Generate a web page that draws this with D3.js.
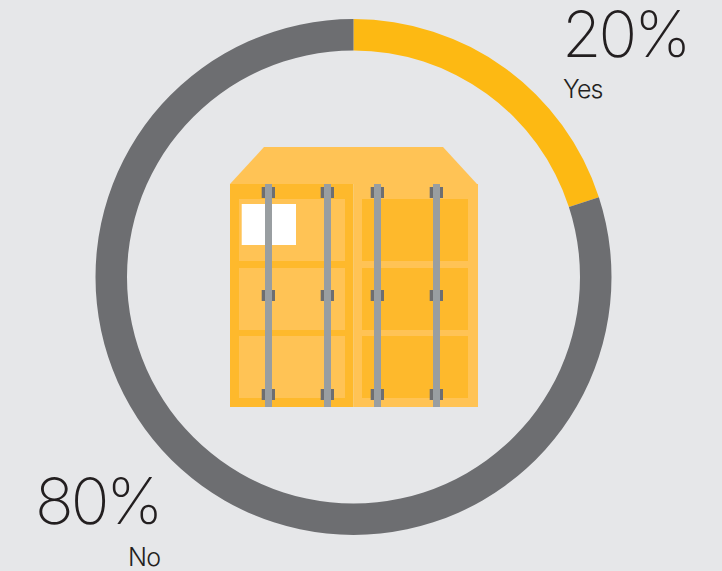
<!DOCTYPE html>
<html>
<head>
<meta charset="utf-8">
<style>
  html, body { margin: 0; padding: 0; background: #e6e7e9; overflow: hidden; }
  text { font-family: "Inter", "Liberation Sans", sans-serif; fill: #231f20; }
</style>
<script src="https://cdn.jsdelivr.net/npm/d3@7"></script>
</head>
<body>
<svg id="chart" width="722" height="571"></svg>
<script>
const categories = ["Yes", "No"];
const shares = [20, 80];
const sliceColors = ["#fdb913", "#6d6e71"];

const svg = d3.select("#chart");
const centerX = 353.5, centerY = 277, outerR = 258, innerR = 226.5;

// Ring, starting at twelve o'clock and running clockwise
const pie = d3.pie().sort(null).value(d => d);
const arc = d3.arc().innerRadius(innerR).outerRadius(outerR);
const color = d3.scaleOrdinal().domain(categories).range(sliceColors);

svg.append("g")
  .attr("transform", `translate(${centerX},${centerY})`)
  .selectAll("path")
  .data(pie(shares))
  .join("path")
  .attr("d", arc)
  .attr("fill", (d, i) => color(categories[i]));

// Percentage and category labels
const labelSpots = [
  { pctX: 562, pctY: 57, nameX: 563, nameY: 98 },
  { pctX: 35, pctY: 524, nameX: 128, nameY: 566 }
];
categories.forEach((name, i) => {
  const spot = labelSpots[i];
  svg.append("text").attr("x", spot.pctX).attr("y", spot.pctY)
    .attr("font-size", 64).attr("font-weight", 250).attr("letter-spacing", -3)
    .text(shares[i] + "%");
  svg.append("text").attr("x", spot.nameX).attr("y", spot.nameY)
    .attr("font-size", 25).attr("font-weight", 300).attr("letter-spacing", -0.8)
    .text(name);
});

// Shipping container illustration
const light = "#ffc355", deep = "#feb92c", steel = "#999ea1", clasp = "#6d6e71";
const icon = svg.append("g");
const rect = (x0, y0, x1, y1, fill) =>
  icon.append("rect").attr("x", x0).attr("y", y0)
    .attr("width", x1 - x0).attr("height", y1 - y0).attr("fill", fill);

icon.append("path").attr("d", "M230,184L264,147H443L477,184Z").attr("fill", light);
rect(230, 184, 353.5, 407, deep);
rect(353.5, 184, 478, 407, light);

const panelRows = [[199, 261], [268, 330], [336, 398]];
panelRows.forEach(([top, bottom]) => {
  rect(239, top, 345, bottom, light);
  rect(362, top, 468, bottom, deep);
});
rect(241.7, 204, 296, 245, "#ffffff");

const barLefts = [265, 324, 374, 433];
const claspTops = [187, 290, 389];
barLefts.forEach(left => {
  claspTops.forEach(top => rect(left - 3.3, top, left + 10, top + 11, clasp));
  rect(left, 184, left + 7, 407, steel);
});
</script>
</body>
</html>
